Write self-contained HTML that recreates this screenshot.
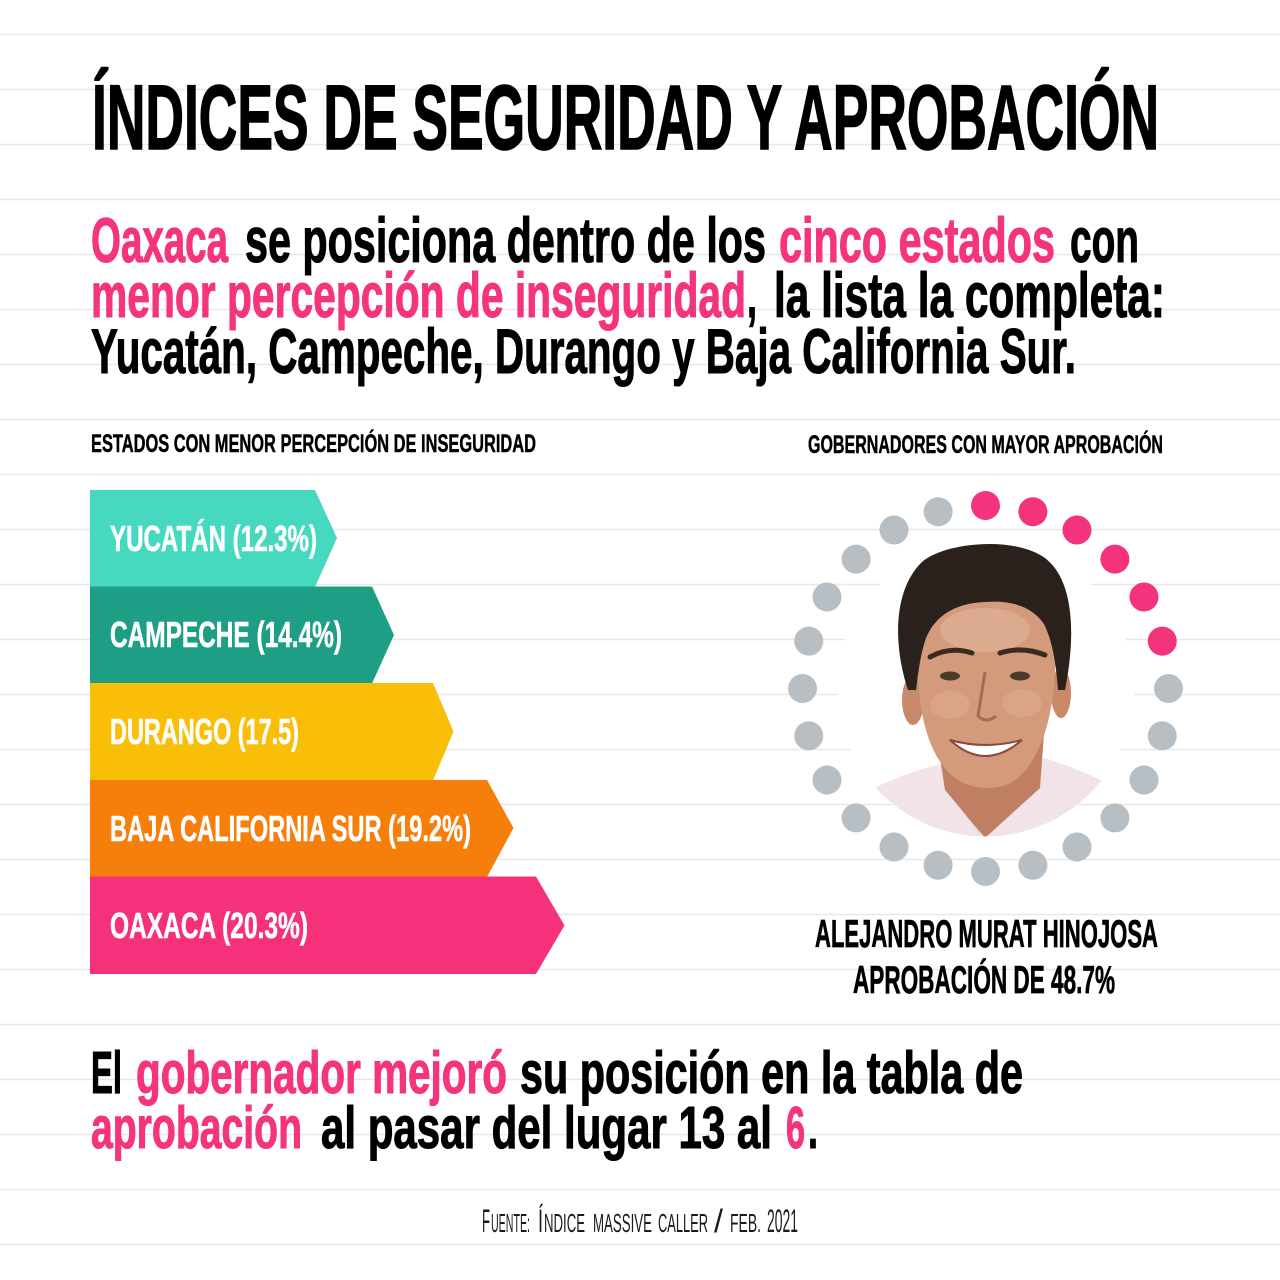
<!DOCTYPE html>
<html>
<head>
<meta charset="utf-8">
<style>
html,body{margin:0;padding:0;background:#fff;}
svg{display:block;}
.b{font-family:"Liberation Sans Narrow","Liberation Sans",sans-serif;font-weight:700;}
.n{font-family:"Liberation Sans Narrow","Liberation Sans",sans-serif;font-weight:400;}
</style>
</head>
<body>
<svg width="1280" height="1280" viewBox="0 0 1280 1280" xmlns="http://www.w3.org/2000/svg">
<defs>
<clipPath id="pc"><circle cx="985.5" cy="688.5" r="148"/></clipPath>
</defs>
<rect width="1280" height="1280" fill="#ffffff"/>

<!-- ruled lines -->
<g stroke="#e8e8e8" stroke-width="1.5">
<line x1="0" x2="1280" y1="34.5" y2="34.5"/>
<line x1="0" x2="1280" y1="89.5" y2="89.5"/>
<line x1="0" x2="1280" y1="144.5" y2="144.5"/>
<line x1="0" x2="1280" y1="199.5" y2="199.5"/>
<line x1="0" x2="1280" y1="254.5" y2="254.5"/>
<line x1="0" x2="1280" y1="309.5" y2="309.5"/>
<line x1="0" x2="1280" y1="364.5" y2="364.5"/>
<line x1="0" x2="1280" y1="419.5" y2="419.5"/>
<line x1="0" x2="1280" y1="474.5" y2="474.5"/>
<line x1="0" x2="1280" y1="529.5" y2="529.5"/>
<line x1="0" x2="1280" y1="584.5" y2="584.5"/>
<line x1="0" x2="1280" y1="639.5" y2="639.5"/>
<line x1="0" x2="1280" y1="694.5" y2="694.5"/>
<line x1="0" x2="1280" y1="749.5" y2="749.5"/>
<line x1="0" x2="1280" y1="804.5" y2="804.5"/>
<line x1="0" x2="1280" y1="859.5" y2="859.5"/>
<line x1="0" x2="1280" y1="914.5" y2="914.5"/>
<line x1="0" x2="1280" y1="969.5" y2="969.5"/>
<line x1="0" x2="1280" y1="1024.5" y2="1024.5"/>
<line x1="0" x2="1280" y1="1079.5" y2="1079.5"/>
<line x1="0" x2="1280" y1="1134.5" y2="1134.5"/>
<line x1="0" x2="1280" y1="1189.5" y2="1189.5"/>
<line x1="0" x2="1280" y1="1244.5" y2="1244.5"/>
</g>

<!-- Title -->
<text class="b" x="92" y="149" font-size="92" fill="#000" stroke="#000" stroke-width="1.6" textLength="1067" lengthAdjust="spacingAndGlyphs">ÍNDICES DE SEGURIDAD Y APROBACIÓN</text>

<!-- Subtitle -->
<g stroke-width="1.1">
<text class="b" x="91" y="262" font-size="63" fill="#f4347d" stroke="#f4347d" textLength="137" lengthAdjust="spacingAndGlyphs">Oaxaca</text>
<text class="b" x="245" y="262" font-size="63" fill="#000" stroke="#000" textLength="521" lengthAdjust="spacingAndGlyphs">se posiciona dentro de los</text>
<text class="b" x="779" y="262" font-size="63" fill="#f4347d" stroke="#f4347d" textLength="276" lengthAdjust="spacingAndGlyphs">cinco estados</text>
<text class="b" x="1070" y="262" font-size="63" fill="#000" stroke="#000" textLength="69" lengthAdjust="spacingAndGlyphs">con</text>

<text class="b" x="91" y="317" font-size="63" fill="#f4347d" stroke="#f4347d" textLength="655" lengthAdjust="spacingAndGlyphs">menor percepción de inseguridad</text>
<text class="b" x="747" y="317" font-size="63" fill="#000" stroke="#000" textLength="10" lengthAdjust="spacingAndGlyphs">,</text>
<text class="b" x="774" y="317" font-size="63" fill="#000" stroke="#000" textLength="391" lengthAdjust="spacingAndGlyphs">la lista la completa:</text>

<text class="b" x="91" y="373" font-size="63" fill="#000" stroke="#000" textLength="985" lengthAdjust="spacingAndGlyphs">Yucatán, Campeche, Durango y Baja California Sur.</text>
</g>

<!-- Section headers -->
<text class="b" x="91" y="452" font-size="25" fill="#000" stroke="#000" stroke-width="0.5" textLength="445" lengthAdjust="spacingAndGlyphs">ESTADOS CON MENOR PERCEPCIÓN DE INSEGURIDAD</text>
<text class="b" x="808" y="453" font-size="25" fill="#000" stroke="#000" stroke-width="0.5" textLength="355" lengthAdjust="spacingAndGlyphs">GOBERNADORES CON MAYOR APROBACIÓN</text>

<!-- Bars -->
<polygon points="90,490 315,490 337,538 315,587 90,587" fill="#47d9c0"/>
<polygon points="90,586.5 372,586.5 394,635 372,683.5 90,683.5" fill="#1d9e85"/>
<polygon points="90,683 433,683 453.5,731.5 433,780.5 90,780.5" fill="#f9bf08"/>
<polygon points="90,780 487,780 513.5,828 487,877 90,877" fill="#f57f0a"/>
<polygon points="90,876.5 536,876.5 564.5,925.5 536,974 90,974" fill="#f6317b"/>

<g stroke="#fff" stroke-width="0.6">
<text class="b" x="110" y="551" font-size="36" fill="#fff" textLength="207" lengthAdjust="spacingAndGlyphs">YUCATÁN (12.3%)</text>
<text class="b" x="110" y="647" font-size="36" fill="#fff" textLength="232" lengthAdjust="spacingAndGlyphs">CAMPECHE (14.4%)</text>
<text class="b" x="110" y="744" font-size="36" fill="#fff" textLength="189" lengthAdjust="spacingAndGlyphs">DURANGO (17.5)</text>
<text class="b" x="110" y="841" font-size="36" fill="#fff" textLength="361" lengthAdjust="spacingAndGlyphs">BAJA CALIFORNIA SUR (19.2%)</text>
<text class="b" x="110" y="938" font-size="36" fill="#fff" textLength="198" lengthAdjust="spacingAndGlyphs">OAXACA (20.3%)</text>
</g>

<!-- Photo circle -->
<circle cx="985.5" cy="688.5" r="148.5" fill="#fff"/>
<g clip-path="url(#pc)">
  <rect x="830" y="530" width="320" height="320" fill="#ffffff"/>
  <!-- shirt -->
  <path d="M 830,810 C 870,788 912,770 942,764 L 985,842 L 1035,756 C 1062,762 1100,778 1145,802 L 1145,850 L 830,850 Z" fill="#f2e3e8"/>
  <path d="M 942,764 L 962,800 L 985,842 L 948,792 Z" fill="#e6d0d8"/>
  <path d="M 1035,756 L 1012,800 L 985,842 L 1022,792 Z" fill="#e6d0d8"/>
  <!-- neck -->
  <path d="M 935,725 L 1045,720 L 1040,788 L 985,838 L 945,790 Z" fill="#c07f62"/>
  <!-- ears -->
  <ellipse cx="913" cy="700" rx="11" ry="25" fill="#c8886a"/>
  <ellipse cx="1061" cy="693" rx="10" ry="25" fill="#c8886a"/>
  <!-- face -->
  <path d="M 918,640 C 915,700 925,755 955,778 C 970,790 1000,792 1015,780 C 1045,758 1058,700 1055,640 C 1050,600 1020,590 985,590 C 950,590 922,600 918,640 Z" fill="#d39a7c"/>
  <ellipse cx="985" cy="630" rx="45" ry="22" fill="#dcab8f"/>
  <ellipse cx="950" cy="705" rx="20" ry="14" fill="#d9a487"/>
  <ellipse cx="1022" cy="703" rx="20" ry="14" fill="#d9a487"/>
  <!-- hair -->
  <path d="M 908,690 C 893,645 893,590 922,562 C 945,542 1015,536 1045,558 C 1074,580 1076,635 1065,690 L 1058,690 C 1056,662 1052,640 1044,624 C 1032,606 1010,600 985,602 C 960,603 937,612 926,638 C 920,655 918,675 916,690 Z" fill="#2a201c"/>
  <!-- brows -->
  <path d="M 930,657 Q 950,646 972,653" stroke="#3a2a22" stroke-width="5" fill="none" stroke-linecap="round"/>
  <path d="M 1000,653 Q 1022,646 1045,655" stroke="#3a2a22" stroke-width="5" fill="none" stroke-linecap="round"/>
  <!-- eyes -->
  <ellipse cx="950" cy="676" rx="10" ry="4.5" fill="#4a3a2c"/>
  <ellipse cx="1020" cy="676" rx="10" ry="4.5" fill="#4a3a2c"/>
  <!-- nose -->
  <path d="M 985,672 L 978,716 Q 986,724 996,716" stroke="#a8694f" stroke-width="3" fill="none"/>
  <!-- mouth -->
  <path d="M 950,740 Q 985,772 1022,740 Q 985,750 950,740 Z" fill="#ffffff" stroke="#8a4a3a" stroke-width="2"/>
</g>

<!-- dot ring -->
<g transform="translate(985.5,688.5)">
  <circle cx="0" cy="-183" r="14.5" fill="#f3337c"/>
  <circle cx="0" cy="-183" r="14.5" fill="#f3337c" transform="rotate(15)"/>
  <circle cx="0" cy="-183" r="14.5" fill="#f3337c" transform="rotate(30)"/>
  <circle cx="0" cy="-183" r="14.5" fill="#f3337c" transform="rotate(45)"/>
  <circle cx="0" cy="-183" r="14.5" fill="#f3337c" transform="rotate(60)"/>
  <circle cx="0" cy="-183" r="14.5" fill="#f3337c" transform="rotate(75)"/>
  <circle cx="0" cy="-183" r="14.5" fill="#b7bfc5" transform="rotate(90)"/>
  <circle cx="0" cy="-183" r="14.5" fill="#b7bfc5" transform="rotate(105)"/>
  <circle cx="0" cy="-183" r="14.5" fill="#b7bfc5" transform="rotate(120)"/>
  <circle cx="0" cy="-183" r="14.5" fill="#b7bfc5" transform="rotate(135)"/>
  <circle cx="0" cy="-183" r="14.5" fill="#b7bfc5" transform="rotate(150)"/>
  <circle cx="0" cy="-183" r="14.5" fill="#b7bfc5" transform="rotate(165)"/>
  <circle cx="0" cy="-183" r="14.5" fill="#b7bfc5" transform="rotate(180)"/>
  <circle cx="0" cy="-183" r="14.5" fill="#b7bfc5" transform="rotate(195)"/>
  <circle cx="0" cy="-183" r="14.5" fill="#b7bfc5" transform="rotate(210)"/>
  <circle cx="0" cy="-183" r="14.5" fill="#b7bfc5" transform="rotate(225)"/>
  <circle cx="0" cy="-183" r="14.5" fill="#b7bfc5" transform="rotate(240)"/>
  <circle cx="0" cy="-183" r="14.5" fill="#b7bfc5" transform="rotate(255)"/>
  <circle cx="0" cy="-183" r="14.5" fill="#b7bfc5" transform="rotate(270)"/>
  <circle cx="0" cy="-183" r="14.5" fill="#b7bfc5" transform="rotate(285)"/>
  <circle cx="0" cy="-183" r="14.5" fill="#b7bfc5" transform="rotate(300)"/>
  <circle cx="0" cy="-183" r="14.5" fill="#b7bfc5" transform="rotate(315)"/>
  <circle cx="0" cy="-183" r="14.5" fill="#b7bfc5" transform="rotate(330)"/>
  <circle cx="0" cy="-183" r="14.5" fill="#b7bfc5" transform="rotate(345)"/>
</g>

<!-- Name -->
<g stroke="#000" stroke-width="0.7">
<text class="b" x="815" y="947" font-size="39" fill="#000" textLength="343" lengthAdjust="spacingAndGlyphs">ALEJANDRO MURAT HINOJOSA</text>
<text class="b" x="853" y="993" font-size="39" fill="#000" textLength="262" lengthAdjust="spacingAndGlyphs">APROBACIÓN DE 48.7%</text>
</g>

<!-- Bottom statement -->
<g stroke-width="1.1">
<text class="b" x="91" y="1093" font-size="59" fill="#000" stroke="#000" textLength="31" lengthAdjust="spacingAndGlyphs">El</text>
<text class="b" x="136" y="1093" font-size="59" fill="#f4347d" stroke="#f4347d" textLength="371" lengthAdjust="spacingAndGlyphs">gobernador mejoró</text>
<text class="b" x="520" y="1093" font-size="59" fill="#000" stroke="#000" textLength="503" lengthAdjust="spacingAndGlyphs">su posición en la tabla de</text>

<text class="b" x="91" y="1148" font-size="59" fill="#f4347d" stroke="#f4347d" textLength="211" lengthAdjust="spacingAndGlyphs">aprobación</text>
<text class="b" x="321" y="1148" font-size="59" fill="#000" stroke="#000" textLength="451" lengthAdjust="spacingAndGlyphs">al pasar del lugar 13 al</text>
<text class="b" x="786" y="1148" font-size="59" fill="#f4347d" stroke="#f4347d" textLength="19" lengthAdjust="spacingAndGlyphs">6</text>
<text class="b" x="808" y="1148" font-size="59" fill="#000" stroke="#000" textLength="10" lengthAdjust="spacingAndGlyphs">.</text>
</g>

<!-- Source -->
<g fill="#1a1a1a">
<text class="n" x="482" y="1232" font-size="32" textLength="8" lengthAdjust="spacingAndGlyphs">F</text>
<text class="n" x="491" y="1232" font-size="26" textLength="39" lengthAdjust="spacingAndGlyphs">UENTE:</text>
<text class="n" x="538" y="1232" font-size="32" textLength="5" lengthAdjust="spacingAndGlyphs">Í</text>
<text class="n" x="544" y="1232" font-size="26" textLength="41" lengthAdjust="spacingAndGlyphs">NDICE</text>
<text class="n" x="593" y="1232" font-size="26" textLength="59" lengthAdjust="spacingAndGlyphs">MASSIVE</text>
<text class="n" x="658" y="1232" font-size="26" textLength="50" lengthAdjust="spacingAndGlyphs">CALLER</text>
<text class="n" x="714" y="1232" font-size="32" textLength="9" lengthAdjust="spacingAndGlyphs">/</text>
<text class="n" x="730" y="1232" font-size="26" textLength="31" lengthAdjust="spacingAndGlyphs">FEB.</text>
<text class="n" x="767" y="1232" font-size="32" textLength="31" lengthAdjust="spacingAndGlyphs">2021</text>
</g>
</svg>
</body>
</html>
